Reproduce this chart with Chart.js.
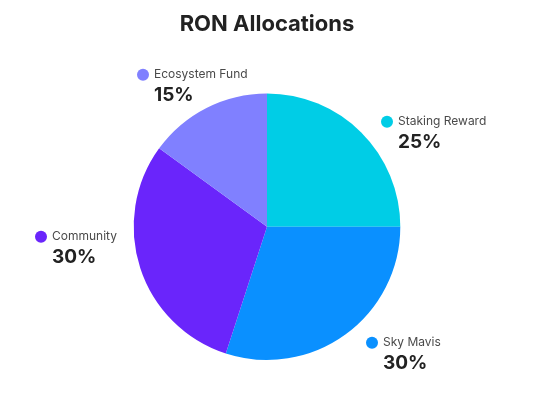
<!DOCTYPE html>
<html>
<head>
<meta charset="utf-8">
<script src="https://cdn.jsdelivr.net/npm/chart.js@4"></script>
<style>
    body { margin: 0; background: #fff; }
    .wrap { width: 545px; height: 412px; position: relative; }
</style>
</head>
<body>
<div class="wrap"><canvas id="ronChart"></canvas></div>
<script>
// Chart data
const labels = ['Staking Reward', 'Sky Mavis', 'Community', 'Ecosystem Fund'];
const values = [25, 30, 30, 15];
const colors = ['#00cde6', '#0a90ff', '#6a25fb', '#8080ff'];

// Where each slice's callout sits, relative to the pie centre
const calloutOffsets = [
    { dx: 120, dy: -105 },
    { dx: 105, dy: 116 },
    { dx: -226, dy: 10 },
    { dx: -124, dy: -152 }
];

/**
 * Draws the dot + name + bold percentage next to each slice
 */
const calloutPlugin = {
    id: 'callouts',
    afterDraw(chart) {
        const ctx = chart.ctx;
        const meta = chart.getDatasetMeta(0);
        const data = chart.data.datasets[0].data;
        const total = data.reduce((a, b) => a + b, 0);

        meta.data.forEach((arc, i) => {
            const off = calloutOffsets[i];
            const x = arc.x + off.dx;
            const y = arc.y + off.dy;

            ctx.save();
            ctx.fillStyle = chart.data.datasets[0].backgroundColor[i];
            ctx.beginPath();
            ctx.arc(x, y, 6, 0, Math.PI * 2);
            ctx.fill();

            ctx.textBaseline = 'middle';
            ctx.textAlign = 'left';
            ctx.fillStyle = '#4a4a4a';
            ctx.font = '12px Inter, sans-serif';
            ctx.fillText(chart.data.labels[i], x + 11, y);

            ctx.fillStyle = '#222';
            ctx.font = 'bold 19px Inter, sans-serif';
            const pct = Math.round(data[i] / total * 100) + '%';
            ctx.fillText(pct, x + 11, y + 21);
            ctx.restore();
        });
    }
};

new Chart(document.getElementById('ronChart'), {
    type: 'pie',
    data: {
        labels: labels,
        datasets: [{
            data: values,
            backgroundColor: colors,
            borderWidth: 0
        }]
    },
    options: {
        responsive: true,
        maintainAspectRatio: false,
        animation: false,
        layout: {
            padding: { top: 0, bottom: 52, left: 0, right: 11 }
        },
        plugins: {
            legend: { display: false },
            tooltip: { enabled: false },
            title: {
                display: true,
                text: 'RON Allocations',
                color: '#222',
                font: { family: 'Inter, sans-serif', size: 22, weight: 'bold', lineHeight: 1.2 },
                padding: { top: 11, bottom: 56 }
            }
        }
    },
    plugins: [calloutPlugin]
});
</script>
</body>
</html>
